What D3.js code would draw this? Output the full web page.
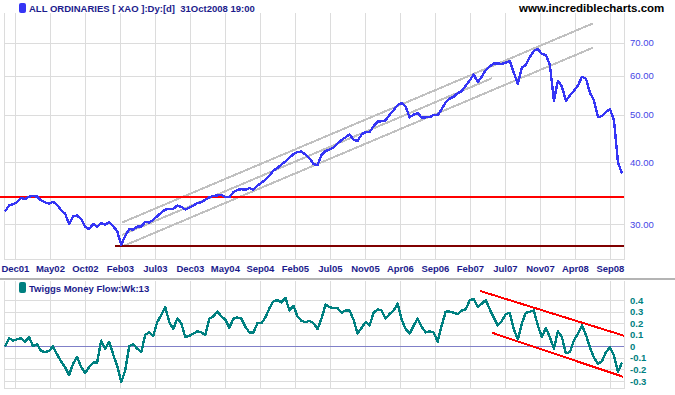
<!DOCTYPE html>
<html>
<head>
<meta charset="utf-8">
<script src="https://cdn.jsdelivr.net/npm/d3@7"></script>
<style>
  html, body { margin: 0; padding: 0; background: #fff; }
  svg { display: block; font-family: "Liberation Sans", Arial, sans-serif; }
</style>
</head>
<body>
<div id="chart"></div>
<script>
// ---- data ----
const startDate = new Date(2001, 10, 5);
const endDate = new Date(2008, 9, 31);

// All Ordinaries close (index / 100), sampled about every 2.5 weeks
const xaoValues = [
	31.8, 32.7, 32.9, 33.2, 33.9, 33.7, 34.1, 34.2, 34.1, 33.5,
	33.2, 33.0, 33.3, 32.8, 32.0, 31.5, 30.0, 31.1, 31.2, 30.7,
	29.6, 29.3, 30.0, 29.6, 30.1, 29.9, 30.3, 29.7, 29.0, 27.2,
	28.4, 29.3, 29.2, 29.65, 29.65, 30.3, 30.2, 30.6, 31.1, 31.65,
	32.1, 32.2, 32.2, 32.7, 32.5, 32.1, 32.4, 32.7, 33.1, 33.2,
	33.6, 34.0, 34.2, 34.3, 34.4, 34.0, 34.0, 34.8, 35.2, 35.3,
	35.2, 35.5, 35.2, 35.9, 36.4, 36.9, 37.6, 38.5, 39.0, 39.6,
	40.2, 40.9, 41.6, 42.0, 42.1, 41.5, 40.8, 39.7, 39.5, 41.4,
	42.2, 42.5, 42.9, 43.7, 44.4, 45.0, 45.6, 44.5, 44.2, 45.6,
	46.1, 46.1, 47.4, 48.4, 48.5, 48.7, 50.0, 51.1, 52.3, 52.8,
	51.9, 49.4, 50.0, 50.4, 49.3, 49.4, 49.4, 50.0, 49.9, 51.3,
	53.0, 53.9, 54.4, 55.3, 55.8, 57.3, 58.7, 60.3, 58.2, 59.7,
	61.6, 62.7, 63.5, 63.5, 63.4, 63.8, 64.3, 60.8, 57.8, 62.3,
	63.1, 65.5, 67.4, 67.9, 66.4, 66.1, 63.1, 53.4, 58.6, 57.0,
	53.4, 54.7, 55.9, 57.3, 59.7, 59.2, 55.4, 53.4, 49.4, 49.7,
	50.7, 51.3, 48.7, 40.0, 38.0
];

// Twiggs Money Flow (13 week), same dates
const tmfValues = [
	0.00, 0.07, 0.05, 0.06, 0.07, 0.04, 0.08, 0.00, 0.02, -0.04,
	-0.05, -0.04, 0.00, -0.07, -0.13, -0.18, -0.25, -0.15, -0.09, -0.18,
	-0.23, -0.18, -0.14, -0.14, 0.05, -0.02, 0.04, -0.07, -0.17, -0.31,
	-0.21, 0.00, 0.02, -0.02, -0.05, 0.10, 0.12, 0.09, 0.21, 0.27,
	0.34, 0.21, 0.15, 0.24, 0.20, 0.08, 0.09, 0.11, 0.13, 0.12,
	0.10, 0.24, 0.26, 0.30, 0.26, 0.23, 0.16, 0.24, 0.25, 0.24,
	0.17, 0.12, 0.12, 0.20, 0.20, 0.25, 0.33, 0.39, 0.40, 0.38,
	0.42, 0.31, 0.35, 0.26, 0.22, 0.21, 0.22, 0.20, 0.15, 0.24,
	0.36, 0.34, 0.33, 0.33, 0.29, 0.31, 0.31, 0.23, 0.11, 0.16,
	0.21, 0.18, 0.29, 0.32, 0.31, 0.24, 0.28, 0.31, 0.37, 0.23,
	0.15, 0.11, 0.18, 0.24, 0.17, 0.12, 0.13, 0.12, 0.04, 0.18,
	0.30, 0.30, 0.29, 0.28, 0.31, 0.32, 0.40, 0.41, 0.34, 0.37,
	0.40, 0.32, 0.25, 0.18, 0.22, 0.28, 0.29, 0.15, 0.06, 0.20,
	0.29, 0.30, 0.31, 0.18, 0.08, 0.16, 0.08, -0.02, 0.13, 0.08,
	-0.06, -0.05, 0.05, 0.11, 0.18, 0.10, -0.01, -0.10, -0.15, -0.13,
	-0.05, -0.01, -0.08, -0.22, -0.14
];

// x axis labels (equally spaced ticks)
const xTickLabels = ["Dec01", "May02", "Oct02", "Feb03", "Jul03", "Dec03", "May04", "Sep04", "Feb05",
	"Jul05", "Nov05", "Apr06", "Sep06", "Feb07", "Jul07", "Nov07", "Apr08", "Sep08"];
const xTickStart = new Date(2001, 11, 16);
const xTickStepDays = 144.76;

const priceTicks = [30, 40, 50, 60, 70];
const tmfTicks = [-0.3, -0.2, -0.1, 0, 0.1, 0.2, 0.3, 0.4];

// trend channel (gray), support lines (red / dark red)
const channelTop = [["2003-03-04", 30.2], ["2008-07-03", 76.6]];
const channelMid = [["2003-03-04", 28.5], ["2007-05-12", 59.3]];
const channelLow = [["2003-03-12", 27.1], ["2008-07-03", 68.4]];
const supportLevel = 34.06;
const lowLevel = { from: "2003-02-03", value: 27.08 };

// money flow down channel
const tmfUpper = [["2007-03-24", 0.479], ["2008-11-08", 0.092]];
const tmfLower = [["2007-05-12", 0.118], ["2008-11-04", -0.263]];

// ---- layout ----
const width = 675, height = 395;
const plotLeft = 4, plotRight = 624;
const top1 = 13, bottom1 = 259;
const top2 = 281, bottom2 = 388;

const parse = d3.timeParse("%Y-%m-%d");
const N = xaoValues.length;
const dates = d3.range(N).map(i => new Date(+startDate + i * (endDate - startDate) / (N - 1)));
const tickDates = xTickLabels.map((l, i) => new Date(+xTickStart + i * xTickStepDays * 864e5));

const x = d3.scaleTime().domain([startDate, endDate]).range([5, 622]);
const yTop = d3.scaleLog().domain([30, 70]).range([224, 42.7]);
const yBot = d3.scaleLinear().domain([-0.3, 0.4]).range([381, 300.1]);

const gridColor = "#dcdcdc";
const navy = "#1c1c8c";

const svg = d3.select("#chart").append("svg")
	.attr("width", width)
	.attr("height", height);

// ---- gridlines ----
function drawGrid(g, yScale, ticks, y0, y1) {
	g.selectAll("line.v")
		.data(tickDates)
		.join("line")
		.attr("class", "v")
		.attr("x1", d => Math.round(x(d)) + 0.5)
		.attr("x2", d => Math.round(x(d)) + 0.5)
		.attr("y1", y0).attr("y2", y1)
		.attr("stroke", gridColor);
	g.selectAll("line.h")
		.data(ticks)
		.join("line")
		.attr("class", "h")
		.attr("x1", plotLeft).attr("x2", plotRight)
		.attr("y1", d => Math.round(yScale(d)) + 0.5)
		.attr("y2", d => Math.round(yScale(d)) + 0.5)
		.attr("stroke", gridColor);
	// frame: left, right, bottom
	g.append("line").attr("x1", plotLeft + 0.5).attr("x2", plotLeft + 0.5).attr("y1", y0).attr("y2", y1).attr("stroke", gridColor);
	g.append("line").attr("x1", plotRight + 0.5).attr("x2", plotRight + 0.5).attr("y1", y0).attr("y2", y1).attr("stroke", gridColor);
	g.append("line").attr("x1", plotLeft).attr("x2", plotRight + 1).attr("y1", y1 + 0.5).attr("y2", y1 + 0.5).attr("stroke", gridColor);
}

const g1 = svg.append("g").attr("shape-rendering", "crispEdges");
drawGrid(g1, yTop, priceTicks, top1, bottom1);
const g2 = svg.append("g").attr("shape-rendering", "crispEdges");
drawGrid(g2, yBot, tmfTicks.filter(d => d !== 0), top2, bottom2);

// zero line of money flow
g2.append("line")
	.attr("x1", plotLeft).attr("x2", plotRight)
	.attr("y1", Math.round(yBot(0)) + 0.5).attr("y2", Math.round(yBot(0)) + 0.5)
	.attr("stroke", "#8080c8");

// panel separator
svg.append("rect")
	.attr("x", 0).attr("y", 278).attr("width", width).attr("height", 2)
	.attr("fill", "#b4b4b4");

// ---- top panel ----
const marks = svg.append("g").attr("shape-rendering", "crispEdges");

const seg = (pts, yScale) => d3.line()
	.x(d => x(parse(d[0])))
	.y(d => yScale(d[1]))(pts);

[channelTop, channelMid, channelLow].forEach(c => {
	marks.append("path")
		.attr("d", seg(c, yTop))
		.attr("fill", "none")
		.attr("stroke", "#c0c0c0")
		.attr("stroke-width", 2);
});

marks.append("line")
	.attr("x1", 0).attr("x2", plotRight)
	.attr("y1", yTop(supportLevel)).attr("y2", yTop(supportLevel))
	.attr("stroke", "#ff0000").attr("stroke-width", 2);

marks.append("line")
	.attr("x1", x(parse(lowLevel.from))).attr("x2", plotRight)
	.attr("y1", yTop(lowLevel.value)).attr("y2", yTop(lowLevel.value))
	.attr("stroke", "#800000").attr("stroke-width", 2);

marks.append("path")
	.datum(xaoValues)
	.attr("fill", "none")
	.attr("stroke", "#3535f5")
	.attr("stroke-width", 2.4)
	.attr("stroke-linejoin", "round")
	.attr("d", d3.line().x((d, i) => x(dates[i])).y(d => yTop(d)));

// price axis
svg.append("g")
	.attr("transform", `translate(${plotRight},0)`)
	.call(d3.axisRight(yTop).tickValues(priceTicks).tickFormat(d3.format(".2f")).tickSize(0).tickPadding(6))
	.call(g => g.select(".domain").remove())
	.selectAll("text")
	.attr("fill", "#4646e6")
	.style("font-size", "9.5px");

// date axis
svg.append("g")
	.attr("transform", `translate(0,${bottom1})`)
	.call(d3.axisBottom(x).tickValues(tickDates).tickFormat((d, i) => xTickLabels[i]).tickSize(0).tickPadding(6))
	.call(g => g.select(".domain").remove())
	.selectAll("text")
	.attr("fill", navy)
	.style("font-size", "9.5px")
	.style("font-weight", "bold");

// ---- bottom panel ----
[tmfUpper, tmfLower].forEach(c => {
	marks.append("path")
		.attr("d", seg(c, yBot))
		.attr("fill", "none")
		.attr("stroke", "#ff0000")
		.attr("stroke-width", 2);
});

marks.append("path")
	.datum(tmfValues)
	.attr("fill", "none")
	.attr("stroke", "#008080")
	.attr("stroke-width", 2.4)
	.attr("stroke-linejoin", "round")
	.attr("d", d3.line().x((d, i) => x(dates[i])).y(d => yBot(d)));

svg.append("g")
	.attr("transform", `translate(${plotRight},0)`)
	.call(d3.axisRight(yBot).tickValues(tmfTicks).tickFormat(d => d === 0 ? "0" : d3.format(".1f")(d).replace("−", "-")).tickSize(0).tickPadding(6))
	.call(g => g.select(".domain").remove())
	.selectAll("text")
	.attr("fill", "#008080")
	.style("font-size", "9.5px")
	.style("font-weight", "bold");

// ---- legends ----
svg.append("rect").attr("x", 19).attr("y", 3).attr("width", 7).attr("height", 10).attr("rx", 2)
	.attr("fill", "#3535f5");
svg.append("text").attr("x", 29).attr("y", 11.5)
	.attr("fill", navy).style("font-size", "9.5px").style("font-weight", "bold")
	.attr("xml:space", "preserve")
	.text("ALL ORDINARIES [ XAO ]:Dy:[d]  31Oct2008 19:00");

svg.append("text").attr("x", 519).attr("y", 12)
	.attr("fill", "#000").style("font-size", "11.5px").style("font-weight", "bold")
	.text("www.incrediblecharts.com");

svg.append("rect").attr("x", 19).attr("y", 282).attr("width", 7).attr("height", 11).attr("rx", 2)
	.attr("fill", "#008080");
svg.append("text").attr("x", 29).attr("y", 291.5)
	.attr("fill", navy).style("font-size", "9.5px").style("font-weight", "bold")
	.text("Twiggs Money Flow:Wk:13");
</script>
</body>
</html>
